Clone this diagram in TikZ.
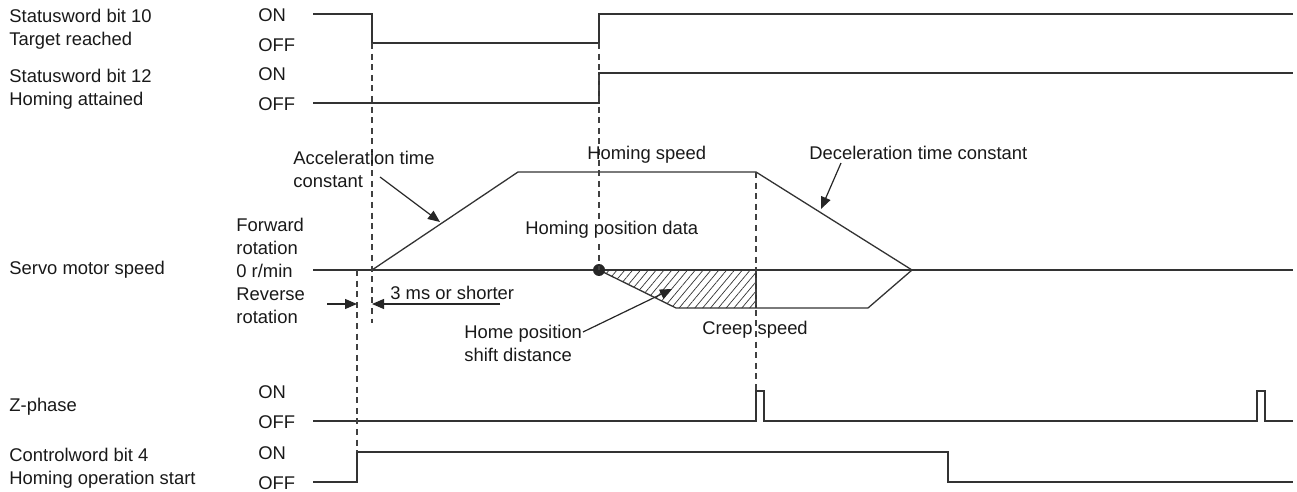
\documentclass[tikz,border=0pt]{standalone}
\usepackage{fontspec}
\setmainfont{Liberation Sans}
\usetikzlibrary{arrows.meta,patterns.meta}

\begin{document}
\begin{tikzpicture}[x=0.5pt,y=-0.5pt,
  sig/.style={draw=black!80,line width=0.65pt},
  guide/.style={draw=black!75,line width=0.6pt,dash pattern=on 3pt off 2.3pt},
  lbl/.style={inner sep=0pt,anchor=west,align=left,text=black!90,
    font=\fontsize{9.2pt}{11.5pt}\selectfont},
  tip/.style={draw=black!85,line width=0.6pt,-{Triangle[length=6pt,width=5pt]}}]
  \useasboundingbox (0,0) rectangle (1297,492);

  % signal names
  \node[lbl] (sw10) at (9,29.5) {Statusword bit 10\\Target reached};
  \node[lbl] (sw12) at (9,89) {Statusword bit 12\\Homing attained};
  \node[lbl] (spd) at (9,270) {Servo motor speed};
  \node[lbl] (zph) at (9,407) {Z-phase};
  \node[lbl] (cw4) at (9,468) {Controlword bit 4\\Homing operation start};

  % levels
  \foreach \y/\n in {14/a,73/b,391/z,452/c} {
    \node[lbl] (on\n) at (258,\y+1.5) {ON};
    \node[lbl] (off\n) at (258,\y+31.5) {OFF};
  }
  \node[lbl] (fwd) at (236,236) {Forward\\rotation};
  \node[lbl] (zero) at (236,271) {0 r/min};
  \node[lbl] (rev) at (236,305.5) {Reverse\\rotation};

  % timing lines
  \draw[sig] (313,14) -- (372,14) -- (372,43) -- (599,43) -- (599,14) -- (1293,14);
  \draw[sig] (313,103) -- (599,103) -- (599,73) -- (1293,73);
  \draw[sig] (313,421) -- (756,421) -- (756,391) -- (764,391) -- (764,421)
    -- (1257,421) -- (1257,391) -- (1265,391) -- (1265,421) -- (1293,421);
  \draw[sig] (313,482) -- (357,482) -- (357,452) -- (948,452) -- (948,482) -- (1293,482);

  % speed
  \fill[pattern={Lines[angle=50,distance=3pt,line width=0.35pt]},pattern color=black!80]
    (599,270) -- (676,308) -- (756,308) -- (756,270) -- cycle;
  \draw[sig] (313,270) -- (1293,270);
  \draw[sig] (372,270) -- (518,172) -- (756,172) -- (912,270);
  \draw[sig] (599,270) -- (676,308) -- (868,308) -- (912,270);
  \draw[sig] (756,270) -- (756,308);
  \fill[black!85] (599,270) circle[radius=3pt];

  % guides
  \draw[guide] (372,43) -- (372,323);
  \draw[guide] (357,270) -- (357,452);
  \draw[guide] (599,43) -- (599,270);
  \draw[guide] (756,172) -- (756,391);

  % notes
  \node[lbl] (acc) at (293,169.5) {Acceleration time\\constant};
  \coordinate (accfrom) at (380,177);
  \coordinate (accto) at (440,222);
  \draw[tip] (accfrom) -- (accto);
  \node[lbl] (hspd) at (587,155) {Homing speed};
  \node[lbl,fill=white,inner sep=1pt] (hpos) at (523,230) {Homing position data};
  \node[lbl] (dec) at (809,153) {Deceleration time constant};
  \coordinate (decfrom) at (841,163);
  \coordinate (decto) at (821,209);
  \draw[tip] (decfrom) -- (decto);

  \node[lbl] (ms) at (390,293) {3 ms or shorter};
  \coordinate (msl) at (327,304);
  \coordinate (msr) at (500,304);
  \draw[tip] (msl) -- (357,304);
  \draw[tip] (msr) -- (372,304);

  \node[lbl] (hps) at (464,343.5) {Home position\\shift distance};
  \coordinate (hpsfrom) at (583,332);
  \coordinate (hpsto) at (672,289);
  \draw[tip] (hpsfrom) -- (hpsto);
  \node[lbl] (crp) at (702,330) {Creep speed};
\end{tikzpicture}
\end{document}
